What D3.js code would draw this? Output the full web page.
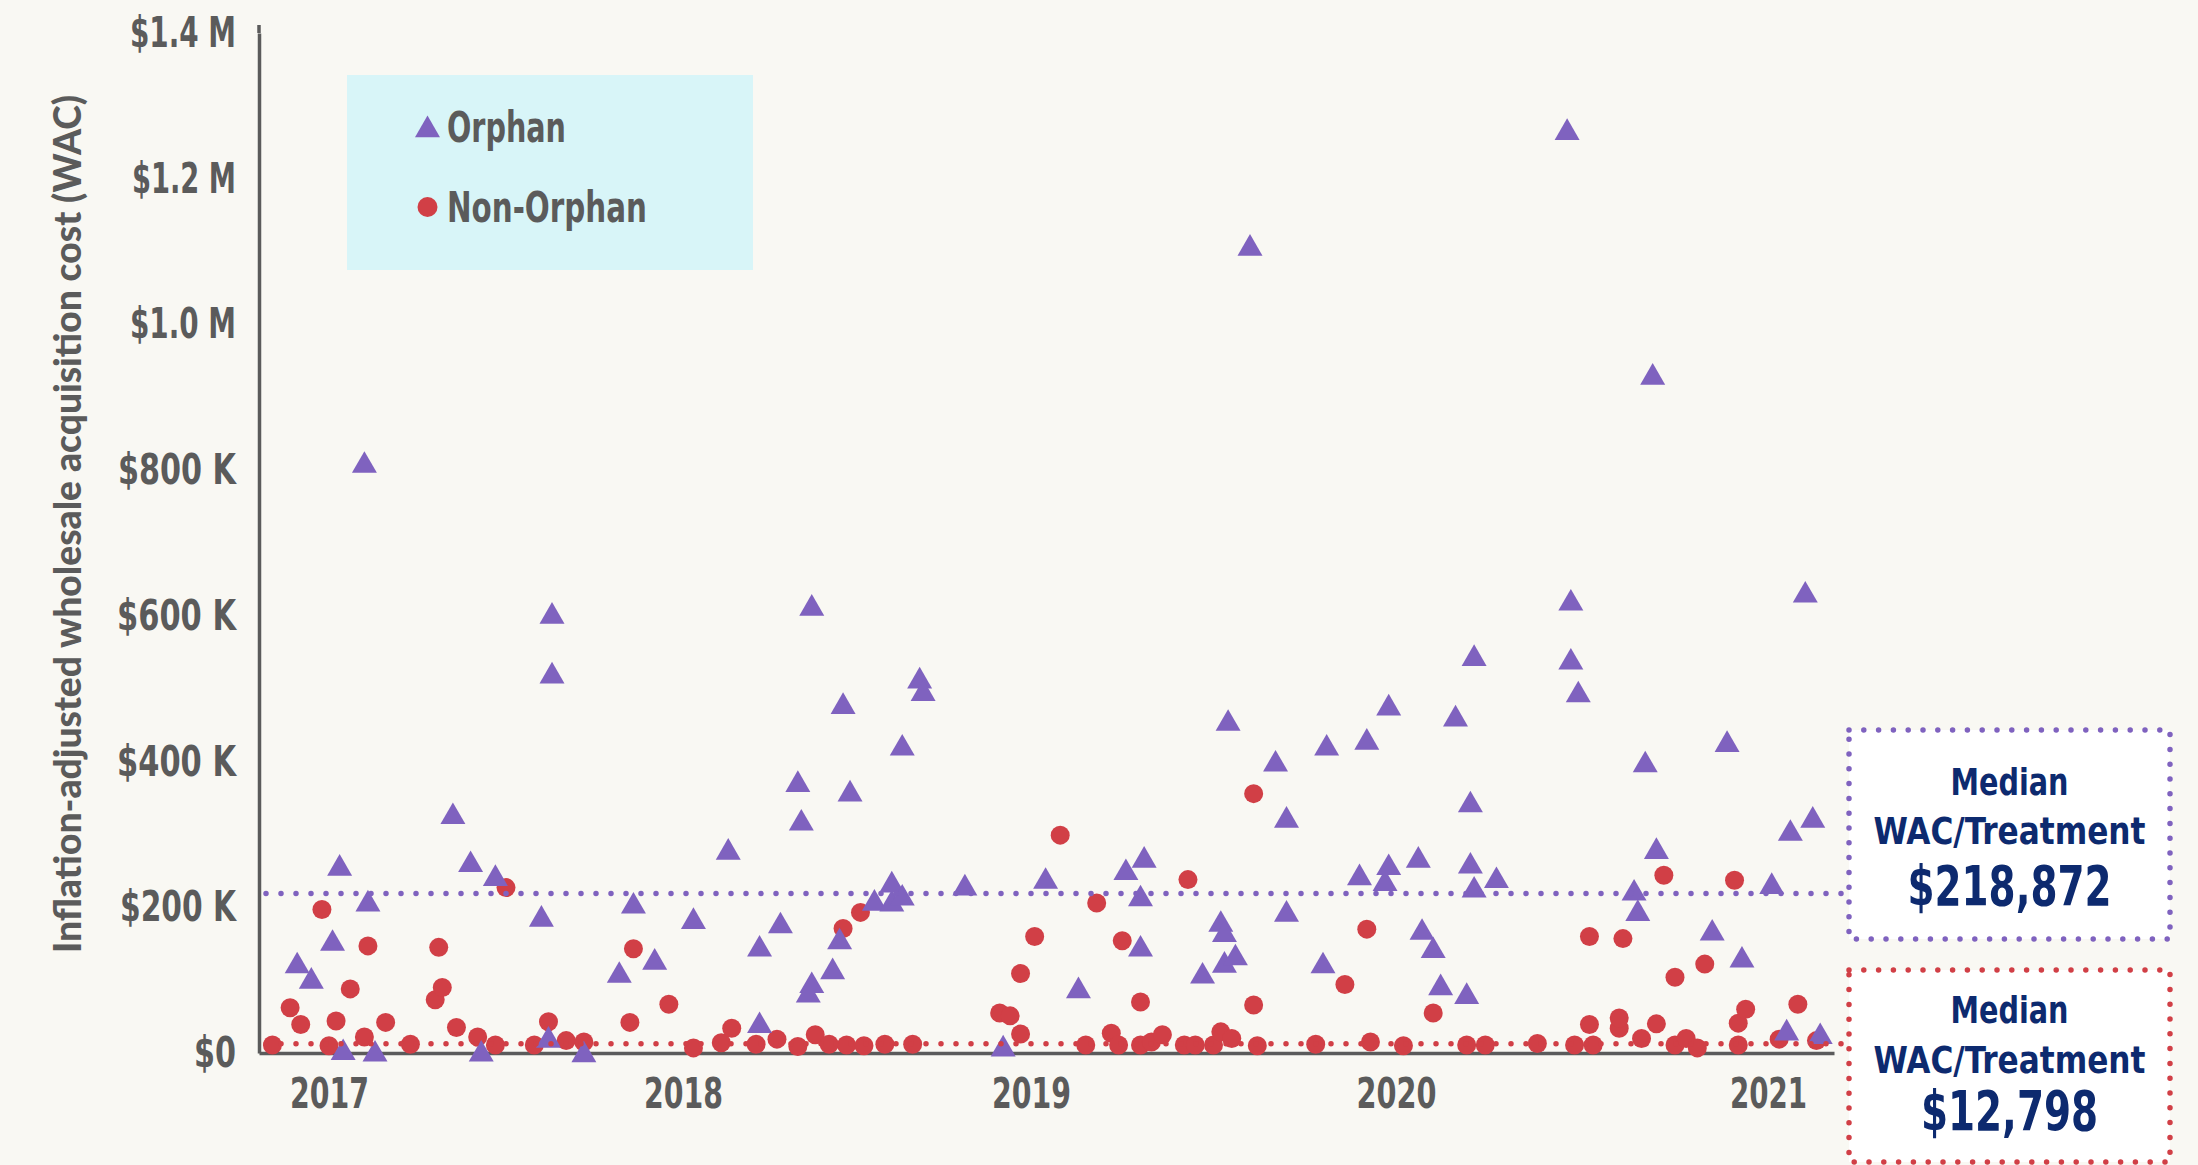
<!DOCTYPE html>
<html>
<head>
<meta charset="utf-8">
<script src="https://cdn.jsdelivr.net/npm/d3@7"></script>
<style>
  html, body { margin: 0; padding: 0; background: #f9f8f3; }
  svg { display: block; }
  .cond { font-family: 'Liberation Sans Narrow', 'Arial Narrow', 'DejaVu Sans Condensed', sans-serif; font-weight: bold; }
</style>
</head>
<body>
<script>
// launch date as decimal year, WAC in $ thousands
var orphanYears = [
  2016.91, 2016.95, 2017.01, 2017.03, 2017.04, 2017.10, 2017.11, 2017.13, 2017.35, 2017.40,
  2017.43, 2017.47, 2017.60, 2017.62, 2017.63, 2017.63, 2017.72, 2017.82, 2017.86, 2017.92,
  2018.03, 2018.13, 2018.22, 2018.22, 2018.28, 2018.33, 2018.34, 2018.36, 2018.37, 2018.37,
  2018.43, 2018.45, 2018.46, 2018.48, 2018.55, 2018.60, 2018.60, 2018.63, 2018.63, 2018.68,
  2018.69, 2018.81, 2018.92, 2019.04, 2019.13, 2019.26, 2019.30, 2019.30, 2019.31, 2019.47,
  2019.52, 2019.53, 2019.53, 2019.54, 2019.56, 2019.60, 2019.67, 2019.70, 2019.70, 2019.80,
  2019.81, 2019.90, 2019.92, 2019.97, 2019.98, 2019.98, 2020.06, 2020.07, 2020.10, 2020.12,
  2020.16, 2020.19, 2020.20, 2020.20, 2020.21, 2020.21, 2020.27, 2020.46, 2020.47, 2020.47,
  2020.49, 2020.64, 2020.65, 2020.67, 2020.69, 2020.70, 2020.85, 2020.89, 2020.93, 2021.01,
  2021.05, 2021.06, 2021.10, 2021.12, 2021.14
];
var orphanValues = [
  124, 103, 155, 258, 5, 811, 209, 3, 329, 263,
  3, 244, 188, 22, 604, 522, 2, 111, 206, 129,
  185, 280, 147, 42, 179, 373, 320, 84, 97, 615,
  116, 157, 480, 360, 210, 209, 235, 423, 217, 515,
  498, 231, 10, 240, 90, 252, 147, 216, 269, 110,
  181, 167, 125, 457, 135, 1109, 401, 324, 195, 124,
  423, 245, 431, 237, 259, 478, 269, 170, 145, 94,
  463, 82, 345, 261, 228, 546, 241, 1268, 622, 541,
  496, 224, 196, 400, 932, 281, 169, 428, 132, 233,
  32, 306, 633, 324, 27
];
var nonOrphanYears = [
  2016.84, 2016.89, 2016.92, 2016.98, 2017.00, 2017.02, 2017.06, 2017.10, 2017.11, 2017.16,
  2017.23, 2017.30, 2017.31, 2017.32, 2017.36, 2017.42, 2017.47, 2017.50, 2017.58, 2017.62,
  2017.67, 2017.72, 2017.85, 2017.86, 2017.96, 2018.03, 2018.11, 2018.14, 2018.21, 2018.27,
  2018.33, 2018.38, 2018.42, 2018.46, 2018.47, 2018.51, 2018.52, 2018.58, 2018.66, 2018.91,
  2018.94, 2018.97, 2018.97, 2019.01, 2019.08, 2019.15, 2019.18, 2019.22, 2019.24, 2019.25,
  2019.30, 2019.30, 2019.33, 2019.36, 2019.42, 2019.43, 2019.45, 2019.50, 2019.52, 2019.55,
  2019.61, 2019.61, 2019.62, 2019.78, 2019.86, 2019.92, 2019.93, 2020.02, 2020.10, 2020.19,
  2020.24, 2020.38, 2020.48, 2020.52, 2020.52, 2020.53, 2020.60, 2020.60, 2020.61, 2020.66,
  2020.70, 2020.72, 2020.75, 2020.75, 2020.78, 2020.81, 2020.83, 2020.91, 2020.92, 2020.92,
  2020.94, 2021.03, 2021.08, 2021.13
];
var nonOrphanValues = [
  11, 62, 39, 197, 10, 44, 88, 22, 147, 42,
  12, 73, 145, 90, 35, 22, 11, 227, 11, 43,
  17, 15, 42, 143, 67, 7, 14, 34, 12, 19,
  9, 25, 12, 171, 11, 193, 10, 12, 12, 55,
  51, 26, 109, 160, 299, 11, 206, 27, 11, 154,
  70, 11, 15, 25, 11, 238, 11, 11, 29, 20,
  356, 66, 10, 12, 94, 170, 15, 10, 55, 11,
  11, 13, 11, 160, 39, 11, 34, 48, 157, 20,
  40, 244, 104, 11, 20, 7, 122, 237, 41, 11,
  60, 19, 67, 17
];

var yearTicks = [2017, 2018, 2019, 2020, 2021];
var valueTicks = [0, 200, 400, 600, 800, 1000, 1200, 1400];
var valueTickLabels = ["$0", "$200 K", "$400 K", "$600 K", "$800 K", "$1.0 M", "$1.2 M", "$1.4 M"];
var seriesNames = ["Orphan", "Non-Orphan"];
var medianValues = [218.872, 12.798];
var medianLabels = ["$218,872", "$12,798"];

// styling
var purple = "#7f62bf", red = "#d13f46", gray = "#5b5b5b", navy = "#0d2a6f";
// the original uses a condensed face; squeeze the fallback font to its widths
var labelWidths = {
  "$0": 42, "$200 K": 116, "$400 K": 119, "$600 K": 119, "$800 K": 118,
  "$1.0 M": 106, "$1.2 M": 104, "$1.4 M": 106,
  "2017": 79, "2018": 79, "2019": 79, "2020": 80, "2021": 77,
  "Orphan": 119, "Non-Orphan": 200
};

var width = 2198, height = 1165;

var svg = d3.select("body").append("svg")
  .attr("width", width)
  .attr("height", height);

svg.append("rect")
  .attr("width", width)
  .attr("height", height)
  .attr("fill", "#f9f8f3");

// year labels are not evenly spaced in the original, so the scale is piecewise
var x = d3.scaleLinear()
  .domain([2016.802, 2017, 2018, 2019, 2020, 2021, 2021.177])
  .range([259, 329, 683, 1031, 1396, 1768, 1834]);

var y = d3.scaleLinear()
  .domain([0, 1400])
  .range([1053, 33]);

var boxLeft = 1849, boxRight = 2170;
var triSize = 270, triShift = 3.5; // shift so the triangle's box, not its centroid, sits on the value

// legend
var legend = svg.append("g");
legend.append("rect")
  .attr("x", 347).attr("y", 75)
  .attr("width", 406).attr("height", 195)
  .attr("fill", "#d8f5f8");
legend.append("path")
  .attr("d", d3.symbol(d3.symbolTriangle, triSize))
  .attr("transform", "translate(427.5," + (126.5 + triShift) + ")")
  .attr("fill", purple);
legend.append("circle")
  .attr("cx", 427.5).attr("cy", 207).attr("r", 10)
  .attr("fill", red);
legend.selectAll("text.leg")
  .data(seriesNames)
  .enter().append("text")
  .attr("class", "cond leg")
  .attr("x", 447)
  .attr("y", function(d, i) { return i ? 222 : 142; })
  .attr("font-size", 42)
  .attr("fill", gray)
  .attr("textLength", function(d) { return labelWidths[d]; })
  .attr("lengthAdjust", "spacingAndGlyphs")
  .text(function(d) { return d; });

// axes
var xAxis = svg.append("g")
  .attr("transform", "translate(0," + y(0) + ")")
  .call(d3.axisBottom(x)
    .tickValues(yearTicks)
    .tickFormat(d3.format("d"))
    .tickSize(0)
    .tickSizeOuter(0)
    .tickPadding(25));

var yAxis = svg.append("g")
  .attr("transform", "translate(" + x.range()[0] + ",0)")
  .call(d3.axisLeft(y)
    .tickValues(valueTicks)
    .tickFormat(function(d, i) { return valueTickLabels[i]; })
    .tickSize(0)
    .tickSizeOuter(0)
    .tickPadding(23));

[xAxis, yAxis].forEach(function(g) {
  g.select(".domain").attr("stroke", gray).attr("stroke-width", 3.5);
  g.selectAll("text")
    .attr("class", "cond")
    .attr("font-size", 42)
    .attr("fill", gray)
    .attr("textLength", function() { return labelWidths[this.textContent]; })
    .attr("lengthAdjust", "spacingAndGlyphs");
});

// the y axis line runs a little past the top tick
yAxis.append("line")
  .attr("x1", 0).attr("x2", 0)
  .attr("y1", y(1400)).attr("y2", y(1400) - 8)
  .attr("stroke", gray).attr("stroke-width", 3.5);

svg.append("text")
  .attr("transform", "translate(66,524) rotate(-90)")
  .attr("text-anchor", "middle")
  .attr("dominant-baseline", "central")
  .attr("font-family", "Lato, 'Open Sans', sans-serif")
  .attr("font-weight", 900)
  .attr("font-size", 38)
  .attr("textLength", 858)
  .attr("lengthAdjust", "spacingAndGlyphs")
  .attr("fill", gray)
  .text("Inflation-adjusted wholesale acquisition cost (WAC)");

// points
svg.append("g").selectAll("circle")
  .data(nonOrphanYears)
  .enter().append("circle")
  .attr("cx", function(d) { return x(d); })
  .attr("cy", function(d, i) { return y(nonOrphanValues[i]); })
  .attr("r", 9.5)
  .attr("fill", red);

svg.append("g").selectAll("path")
  .data(orphanYears)
  .enter().append("path")
  .attr("d", d3.symbol(d3.symbolTriangle, triSize))
  .attr("transform", function(d, i) { return "translate(" + x(d) + "," + (y(orphanValues[i]) + triShift) + ")"; })
  .attr("fill", purple);

// median lines
var medColors = [purple, red];
svg.append("g").selectAll("line")
  .data(medianValues)
  .enter().append("line")
  .attr("x1", x.range()[0] + 7)
  .attr("x2", boxLeft)
  .attr("y1", function(d) { return y(d); })
  .attr("y2", function(d) { return y(d); })
  .attr("stroke", function(d, i) { return medColors[i]; })
  .attr("stroke-width", 5.5)
  .attr("stroke-linecap", "round")
  .attr("stroke-dasharray", "0 15");

// median boxes
var boxTops = [730, 970], boxBottoms = [939, 1162];
var lineBaselines = [[795, 844, 905], [1023, 1073, 1130]];
var boxes = svg.append("g").selectAll("g")
  .data(medianLabels)
  .enter().append("g");

boxes.append("rect")
  .attr("x", boxLeft)
  .attr("y", function(d, i) { return boxTops[i]; })
  .attr("width", boxRight - boxLeft)
  .attr("height", function(d, i) { return boxBottoms[i] - boxTops[i]; })
  .attr("fill", "#ffffff")
  .attr("stroke", function(d, i) { return medColors[i]; })
  .attr("stroke-width", 5.5)
  .attr("stroke-linecap", "round")
  .attr("stroke-dasharray", "0 14.8");

var cx = (boxLeft + boxRight) / 2;
boxes.append("text")
  .attr("class", "cond")
  .attr("x", cx)
  .attr("y", function(d, i) { return lineBaselines[i][0]; })
  .attr("text-anchor", "middle")
  .attr("font-size", 38)
  .attr("textLength", 118)
  .attr("lengthAdjust", "spacingAndGlyphs")
  .attr("fill", navy)
  .text("Median");
boxes.append("text")
  .attr("class", "cond")
  .attr("x", cx)
  .attr("y", function(d, i) { return lineBaselines[i][1]; })
  .attr("text-anchor", "middle")
  .attr("font-size", 38)
  .attr("textLength", 272)
  .attr("lengthAdjust", "spacingAndGlyphs")
  .attr("fill", navy)
  .text("WAC/Treatment");
boxes.append("text")
  .attr("class", "cond")
  .attr("x", cx)
  .attr("y", function(d, i) { return lineBaselines[i][2]; })
  .attr("text-anchor", "middle")
  .attr("font-size", 56)
  .attr("textLength", function(d, i) { return i ? 177 : 204; })
  .attr("lengthAdjust", "spacingAndGlyphs")
  .attr("fill", navy)
  .text(function(d) { return d; });
</script>
</body>
</html>
